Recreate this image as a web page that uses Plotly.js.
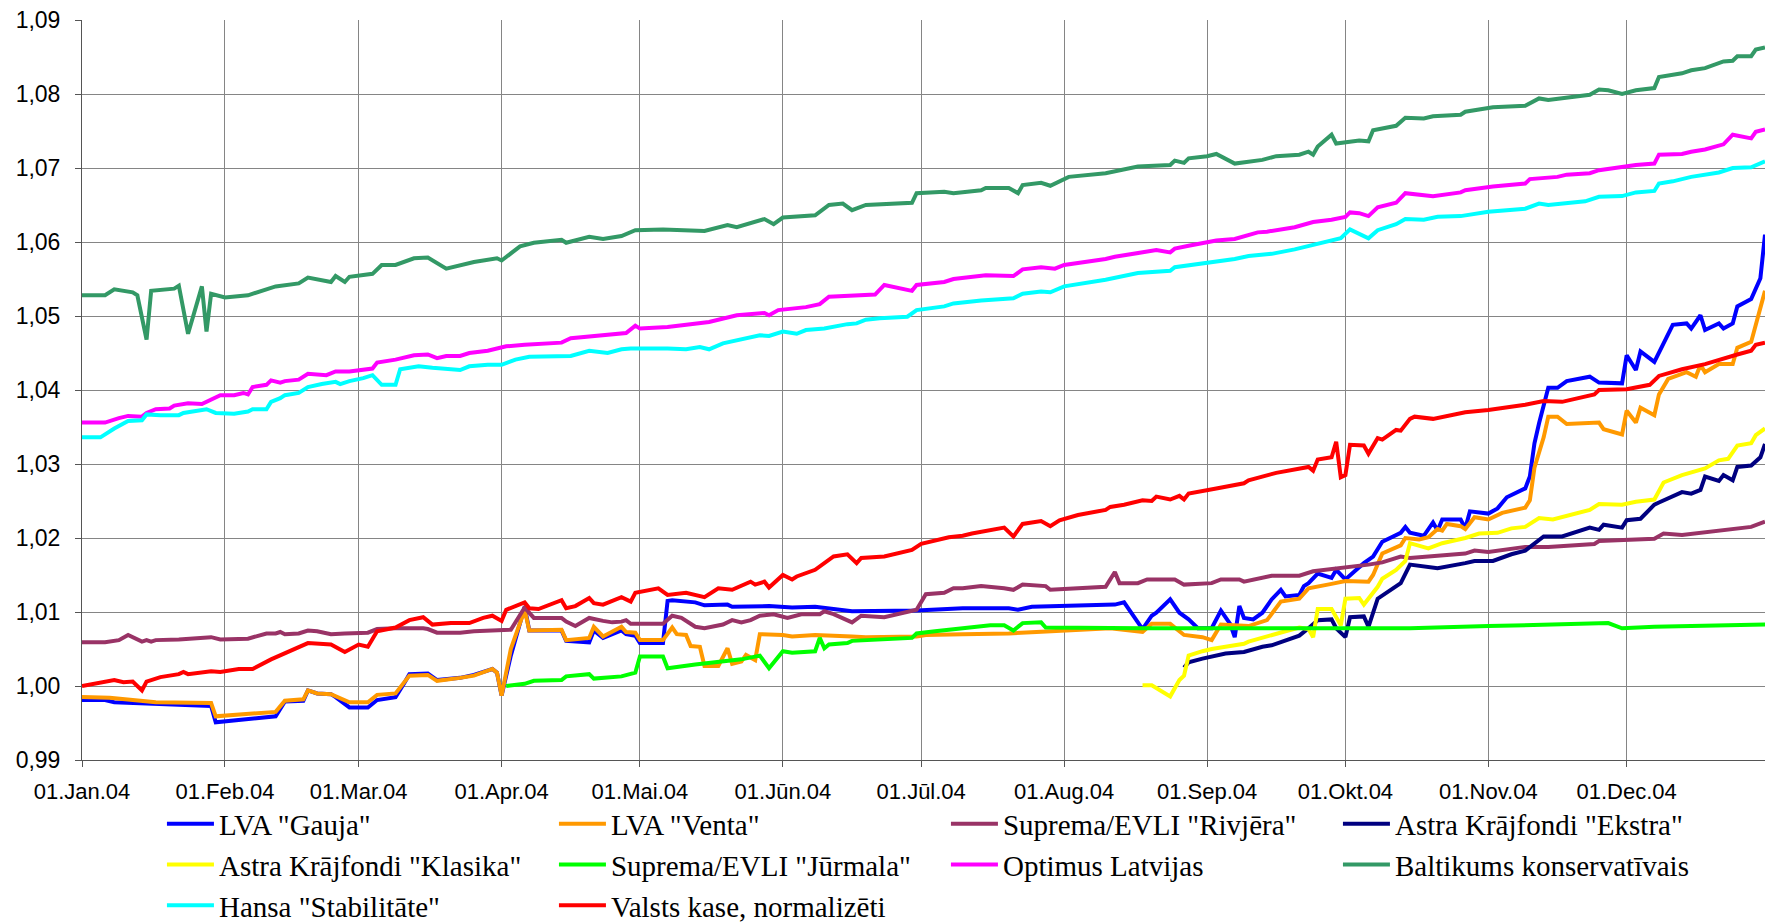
<!DOCTYPE html>
<html><head><meta charset="utf-8">
<script src="https://cdn.plot.ly/plotly-3.0.1.min.js"></script>
<style>html,body{margin:0;padding:0;background:#fff}#chart{width:1765px;height:924px}</style>
</head><body><div id="chart"></div>
<script>
// x tick positions / labels
const monthTicks = ['2004-01-01','2004-02-01','2004-03-01','2004-04-01','2004-05-01','2004-06-01','2004-07-01','2004-08-01','2004-09-01','2004-10-01','2004-11-01','2004-12-01'];
const monthLabels = ['01.Jan.04','01.Feb.04','01.Mar.04','01.Apr.04','01.Mai.04','01.Jūn.04','01.Jūl.04','01.Aug.04','01.Sep.04','01.Okt.04','01.Nov.04','01.Dec.04'];
const yTicks = [0.99,1.00,1.01,1.02,1.03,1.04,1.05,1.06,1.07,1.08,1.09];

// series: day of year 2004 (0 = 1 Jan) and value
const gaujaDay = [0,5,7,16,28,29,36,42,44,48,49,51,54,55,58,62,64,68,70,71,75,77,82,85,89,90,91,93,96,97,104,105,110,111,113,117,118,120,121,126,127,128,133,135,140,141,149,154,159,167,181,191,201,203,206,224,226,228,230,232,233,236,238,240,242,245,247,249,250,251,252,254,256,258,260,261,264,265,266,268,271,272,274,276,278,280,282,286,287,288,291,293,294,295,299,300,301,305,307,309,313,314,315,316,318,320,322,327,329,334,335,337,338,341,345,348,349,351,352,355,356,358,359,362,364,365];
const gaujaVal = [0.9981,0.9981,0.9978,0.9976,0.9973,0.9951,0.9955,0.9959,0.9979,0.9980,0.9994,0.9990,0.9989,0.9985,0.9971,0.9971,0.9981,0.9985,1.0005,1.0016,1.0017,1.0008,1.0011,1.0015,1.0023,1.0018,0.9987,1.0041,1.0107,1.0075,1.0075,1.0061,1.0059,1.0075,1.0065,1.0075,1.0070,1.0068,1.0058,1.0058,1.0115,1.0116,1.0113,1.0109,1.0110,1.0107,1.0108,1.0106,1.0107,1.0101,1.0102,1.0105,1.0105,1.0103,1.0107,1.0110,1.0113,1.0095,1.0077,1.0095,1.0099,1.0117,1.0099,1.0090,1.0078,1.0078,1.0102,1.0084,1.0066,1.0108,1.0092,1.0090,1.0099,1.0117,1.0130,1.0121,1.0123,1.0135,1.0139,1.0152,1.0146,1.0157,1.0144,1.0155,1.0166,1.0175,1.0195,1.0207,1.0215,1.0207,1.0203,1.0221,1.0210,1.0225,1.0225,1.0213,1.0236,1.0233,1.0240,1.0255,1.0267,1.0283,1.0328,1.0355,1.0403,1.0403,1.0412,1.0418,1.0410,1.0409,1.0447,1.0427,1.0452,1.0438,1.0488,1.0490,1.0483,1.0501,1.0481,1.0490,1.0483,1.0490,1.0513,1.0523,1.0551,1.0610];

const ventaDay = [0,6,16,28,29,36,42,44,48,49,51,54,55,58,62,64,68,70,71,75,77,82,85,89,90,91,93,96,97,104,105,110,111,113,117,118,120,121,126,128,129,131,132,134,135,138,140,141,143,144,146,147,152,154,159,167,170,181,183,191,201,207,223,230,232,236,239,243,245,247,250,253,257,260,264,266,271,274,279,280,282,286,287,290,292,294,295,296,299,300,302,305,308,313,314,315,317,318,320,322,329,330,334,335,337,338,341,342,344,348,350,351,352,355,358,359,362,363,365];
const ventaVal = [0.9985,0.9984,0.9978,0.9977,0.9959,0.9962,0.9965,0.9980,0.9982,0.9994,0.9990,0.9989,0.9986,0.9978,0.9978,0.9988,0.9990,1.0007,1.0014,1.0015,1.0007,1.0011,1.0014,1.0023,1.0018,0.9987,1.0050,1.0103,1.0075,1.0076,1.0062,1.0065,1.0080,1.0067,1.0080,1.0073,1.0072,1.0062,1.0062,1.0079,1.0070,1.0069,1.0054,1.0053,1.0027,1.0027,1.0051,1.0030,1.0033,1.0042,1.0035,1.0070,1.0069,1.0067,1.0069,1.0067,1.0066,1.0067,1.0069,1.0070,1.0071,1.0073,1.0078,1.0073,1.0084,1.0084,1.0069,1.0066,1.0062,1.0083,1.0082,1.0081,1.0089,1.0114,1.0118,1.0132,1.0138,1.0142,1.0141,1.0150,1.0179,1.0190,1.0200,1.0198,1.0201,1.0212,1.0210,1.0219,1.0216,1.0212,1.0228,1.0225,1.0234,1.0241,1.0251,1.0295,1.0336,1.0364,1.0364,1.0354,1.0356,1.0347,1.0340,1.0372,1.0356,1.0376,1.0366,1.0394,1.0415,1.0424,1.0418,1.0434,1.0424,1.0435,1.0435,1.0457,1.0465,1.0488,1.0534];

const rivjeraDay = [0,5,8,10,13,14,15,16,21,28,30,36,40,42,43,44,47,49,51,54,57,62,64,68,74,75,77,82,85,91,93,96,98,104,105,107,110,113,115,117,118,119,126,128,130,133,135,139,141,143,145,147,150,153,156,160,161,163,167,169,174,181,183,187,189,191,195,200,202,204,209,210,222,224,225,229,231,237,239,245,247,251,252,258,264,267,270,274,279,282,286,288,293,300,302,305,313,318,328,329,341,343,347,355,362,365];
const rivjeraVal = [1.0059,1.0059,1.0062,1.0069,1.0060,1.0062,1.0060,1.0062,1.0063,1.0066,1.0063,1.0064,1.0071,1.0071,1.0073,1.0070,1.0071,1.0075,1.0074,1.0070,1.0071,1.0072,1.0077,1.0078,1.0078,1.0077,1.0072,1.0072,1.0074,1.0075,1.0076,1.0106,1.0092,1.0092,1.0087,1.0081,1.0092,1.0088,1.0086,1.0087,1.0089,1.0084,1.0084,1.0095,1.0092,1.0080,1.0078,1.0083,1.0089,1.0086,1.0089,1.0095,1.0097,1.0092,1.0097,1.0097,1.0101,1.0097,1.0086,1.0095,1.0093,1.0103,1.0124,1.0126,1.0132,1.0132,1.0135,1.0132,1.0130,1.0137,1.0135,1.0130,1.0134,1.0154,1.0139,1.0139,1.0144,1.0144,1.0137,1.0139,1.0144,1.0144,1.0141,1.0149,1.0149,1.0155,1.0157,1.0160,1.0164,1.0167,1.0175,1.0173,1.0175,1.0179,1.0183,1.0181,1.0188,1.0188,1.0192,1.0196,1.0199,1.0206,1.0204,1.0210,1.0215,1.0222];

const ekstraDay = [239,240,243,245,248,252,256,258,261,264,266,268,271,272,274,275,278,279,281,285,286,288,292,294,300,302,306,310,313,316,317,321,323,327,329,330,334,335,338,341,342,347,349,351,352,355,356,358,359,362,364,365];
const ekstraVal = [1.0025,1.0032,1.0037,1.0040,1.0044,1.0046,1.0053,1.0055,1.0062,1.0068,1.0078,1.0089,1.0090,1.0078,1.0066,1.0093,1.0094,1.0080,1.0118,1.0136,1.0139,1.0164,1.0161,1.0159,1.0166,1.0169,1.0169,1.0178,1.0183,1.0197,1.0202,1.0202,1.0206,1.0214,1.0211,1.0218,1.0214,1.0224,1.0226,1.0245,1.0248,1.0262,1.0260,1.0265,1.0283,1.0277,1.0285,1.0278,1.0296,1.0298,1.0309,1.0327];

const klasikaDay = [230,232,236,238,239,240,243,245,248,252,253,258,261,264,266,267,268,271,272,273,274,277,278,281,282,285,287,288,292,295,300,303,307,310,313,316,319,327,329,334,337,341,343,347,352,355,357,359,362,363,365];
const klasikaVal = [1.0001,1.0001,0.9986,1.0008,1.0014,1.0041,1.0047,1.0050,1.0053,1.0057,1.0060,1.0068,1.0074,1.0079,1.0077,1.0066,1.0104,1.0104,1.0093,1.0082,1.0118,1.0119,1.0110,1.0134,1.0145,1.0157,1.0169,1.0193,1.0186,1.0193,1.0200,1.0206,1.0207,1.0213,1.0215,1.0227,1.0225,1.0238,1.0246,1.0245,1.0249,1.0252,1.0275,1.0285,1.0294,1.0305,1.0307,1.0325,1.0328,1.0339,1.0348];

const jurmalaDay = [92,96,98,104,105,110,111,117,120,121,126,127,133,138,143,147,149,152,154,159,160,161,162,166,167,180,181,185,191,194,197,200,202,204,208,209,230,260,288,305,327,331,334,341,365];
const jurmalaVal = [1.0000,1.0003,1.0007,1.0008,1.0013,1.0016,1.0010,1.0013,1.0018,1.0040,1.0040,1.0024,1.0029,1.0032,1.0036,1.0041,1.0024,1.0047,1.0045,1.0047,1.0065,1.0051,1.0056,1.0058,1.0061,1.0065,1.0071,1.0074,1.0078,1.0080,1.0082,1.0082,1.0075,1.0085,1.0086,1.0079,1.0078,1.0078,1.0078,1.0081,1.0084,1.0085,1.0078,1.0080,1.0083];

const optimusDay = [0,5,8,10,13,14,16,19,20,23,26,29,30,33,35,36,37,40,41,43,44,47,49,53,55,58,61,63,64,68,72,75,77,79,82,84,88,92,96,104,106,114,118,120,121,127,136,142,148,149,151,157,160,162,169,172,174,180,181,187,189,195,196,202,204,208,211,213,217,222,224,229,233,236,237,240,243,246,250,253,255,257,260,263,267,271,274,275,277,279,281,285,287,291,293,299,300,306,313,314,320,322,327,329,334,337,341,342,347,349,352,356,358,362,363,365];
const optimusVal = [1.0356,1.0356,1.0362,1.0365,1.0364,1.0369,1.0374,1.0375,1.0379,1.0382,1.0381,1.0391,1.0393,1.0393,1.0396,1.0394,1.0404,1.0407,1.0413,1.0410,1.0412,1.0414,1.0422,1.0420,1.0425,1.0425,1.0427,1.0429,1.0437,1.0441,1.0447,1.0448,1.0443,1.0446,1.0446,1.0450,1.0453,1.0459,1.0461,1.0464,1.0470,1.0474,1.0477,1.0487,1.0483,1.0485,1.0492,1.0501,1.0504,1.0501,1.0508,1.0512,1.0516,1.0526,1.0528,1.0529,1.0542,1.0534,1.0542,1.0546,1.0550,1.0554,1.0555,1.0554,1.0563,1.0566,1.0564,1.0569,1.0572,1.0577,1.0580,1.0585,1.0589,1.0586,1.0591,1.0595,1.0598,1.0602,1.0604,1.0609,1.0613,1.0614,1.0617,1.0620,1.0627,1.0630,1.0634,1.0640,1.0639,1.0635,1.0647,1.0653,1.0666,1.0663,1.0662,1.0667,1.0670,1.0675,1.0679,1.0685,1.0688,1.0691,1.0693,1.0697,1.0702,1.0704,1.0706,1.0718,1.0719,1.0722,1.0725,1.0732,1.0745,1.0740,1.0749,1.0752];

const baltikumsDay = [0,5,7,11,12,14,15,20,21,23,26,27,28,31,36,42,47,49,54,55,57,58,63,65,68,72,75,79,85,90,91,95,98,104,105,110,113,117,120,126,135,140,142,145,148,150,152,159,162,165,167,170,174,180,181,187,189,195,196,201,203,204,208,210,214,222,229,236,237,239,240,244,246,250,256,259,264,266,267,268,271,272,277,279,280,285,287,291,293,299,300,306,313,316,318,327,329,331,334,337,341,342,347,349,352,356,358,359,362,363,365];
const baltikumsVal = [1.0528,1.0528,1.0536,1.0532,1.0528,1.0468,1.0534,1.0537,1.0541,1.0476,1.0540,1.0479,1.0530,1.0525,1.0528,1.0540,1.0544,1.0552,1.0546,1.0554,1.0546,1.0553,1.0557,1.0569,1.0569,1.0578,1.0579,1.0564,1.0573,1.0578,1.0575,1.0594,1.0599,1.0603,1.0599,1.0607,1.0604,1.0608,1.0616,1.0617,1.0615,1.0623,1.0620,1.0626,1.0631,1.0624,1.0633,1.0636,1.0650,1.0652,1.0643,1.0650,1.0651,1.0653,1.0666,1.0668,1.0666,1.0670,1.0673,1.0673,1.0666,1.0677,1.0680,1.0676,1.0688,1.0693,1.0702,1.0704,1.0710,1.0707,1.0713,1.0716,1.0719,1.0706,1.0711,1.0716,1.0718,1.0722,1.0718,1.0729,1.0745,1.0733,1.0737,1.0736,1.0751,1.0757,1.0768,1.0767,1.0770,1.0772,1.0776,1.0782,1.0784,1.0794,1.0792,1.0799,1.0806,1.0805,1.0800,1.0805,1.0808,1.0823,1.0828,1.0832,1.0835,1.0844,1.0845,1.0851,1.0851,1.0860,1.0863];

const hansaDay = [0,4,7,10,13,14,17,21,22,26,27,29,33,36,37,40,41,43,44,47,49,52,55,56,58,61,63,65,68,69,73,76,82,84,88,91,94,97,106,110,114,117,119,127,131,134,136,139,142,147,149,152,155,157,161,166,168,170,173,179,181,187,189,195,202,204,208,210,213,222,229,236,237,243,250,253,258,263,267,273,275,279,281,285,287,291,294,299,305,313,316,318,326,329,334,337,341,342,345,349,355,358,362,365];
const hansaVal = [1.0336,1.0336,1.0348,1.0358,1.0359,1.0367,1.0366,1.0366,1.0369,1.0372,1.0374,1.0369,1.0368,1.0371,1.0374,1.0374,1.0384,1.0389,1.0393,1.0396,1.0404,1.0408,1.0411,1.0408,1.0412,1.0416,1.0420,1.0407,1.0407,1.0428,1.0432,1.0430,1.0427,1.0432,1.0434,1.0434,1.0441,1.0445,1.0446,1.0453,1.0450,1.0455,1.0456,1.0456,1.0455,1.0458,1.0455,1.0463,1.0467,1.0474,1.0473,1.0479,1.0476,1.0481,1.0483,1.0489,1.0490,1.0495,1.0497,1.0499,1.0508,1.0513,1.0517,1.0521,1.0524,1.0530,1.0533,1.0532,1.0540,1.0549,1.0558,1.0561,1.0566,1.0571,1.0577,1.0581,1.0584,1.0590,1.0596,1.0605,1.0617,1.0605,1.0616,1.0624,1.0631,1.0630,1.0634,1.0635,1.0641,1.0645,1.0652,1.0650,1.0655,1.0661,1.0662,1.0667,1.0669,1.0679,1.0682,1.0688,1.0694,1.0700,1.0701,1.0709];

const kaseDay = [0,7,9,11,13,14,17,21,22,23,28,30,34,37,41,45,49,54,57,60,62,64,68,71,74,76,80,84,87,89,91,92,96,97,99,104,105,107,110,111,113,117,119,120,125,127,131,135,138,141,145,146,148,149,152,154,155,159,163,166,168,169,174,180,182,188,191,193,200,202,204,208,210,212,216,222,223,226,230,232,233,236,238,239,240,246,252,253,259,266,267,268,271,272,273,274,275,278,279,281,282,285,286,288,289,293,300,305,313,317,321,328,329,335,340,342,347,352,355,359,362,363,365];
const kaseVal = [1.0000,1.0008,1.0005,1.0006,0.9994,1.0006,1.0012,1.0016,1.0019,1.0016,1.0020,1.0019,1.0023,1.0023,1.0036,1.0047,1.0058,1.0056,1.0046,1.0056,1.0053,1.0074,1.0079,1.0089,1.0093,1.0083,1.0085,1.0085,1.0092,1.0095,1.0088,1.0103,1.0113,1.0105,1.0104,1.0116,1.0105,1.0108,1.0119,1.0112,1.0110,1.0120,1.0114,1.0126,1.0132,1.0123,1.0126,1.0120,1.0132,1.0130,1.0141,1.0137,1.0141,1.0133,1.0150,1.0144,1.0148,1.0157,1.0175,1.0178,1.0166,1.0173,1.0175,1.0184,1.0192,1.0201,1.0203,1.0206,1.0214,1.0202,1.0219,1.0223,1.0216,1.0224,1.0231,1.0238,1.0242,1.0245,1.0251,1.0250,1.0256,1.0252,1.0257,1.0252,1.0260,1.0267,1.0274,1.0278,1.0288,1.0296,1.0291,1.0306,1.0309,1.0330,1.0282,1.0285,1.0326,1.0325,1.0314,1.0335,1.0333,1.0346,1.0345,1.0361,1.0364,1.0361,1.0370,1.0373,1.0380,1.0385,1.0384,1.0394,1.0400,1.0401,1.0407,1.0419,1.0428,1.0435,1.0441,1.0448,1.0453,1.0461,1.0464];

const seriesNames = ['LVA "Gauja"','LVA "Venta"','Suprema/EVLI "Rivjēra"','Astra Krājfondi "Ekstra"','Astra Krājfondi "Klasika"','Suprema/EVLI "Jūrmala"','Optimus Latvijas','Baltikums konservatīvais','Hansa "Stabilitāte"','Valsts kase, normalizēti'];
const seriesColors = ['#0000FF','#FF9900','#993366','#000080','#FFFF00','#00FF00','#FF00FF','#339966','#00FFFF','#FF0000'];
const seriesDays = [gaujaDay,ventaDay,rivjeraDay,ekstraDay,klasikaDay,jurmalaDay,optimusDay,baltikumsDay,hansaDay,kaseDay];
const seriesVals = [gaujaVal,ventaVal,rivjeraVal,ekstraVal,klasikaVal,jurmalaVal,optimusVal,baltikumsVal,hansaVal,kaseVal];

function dayToDate(d){ return new Date(Date.UTC(2004,0,1+d)).toISOString().slice(0,10); }

const traces = seriesNames.map((name,i)=>({
  type:'scatter', mode:'lines', name:name,
  x: seriesDays[i].map(dayToDate), y: seriesVals[i],
  line:{color:seriesColors[i], width:4},
  hoverinfo:'skip'
}));

const layout = {
  width:1765, height:924,
  margin:{l:82, r:0, t:20, b:164, autoexpand:false},
  paper_bgcolor:'#ffffff', plot_bgcolor:'#ffffff',
  separators:', ',
  showlegend:true,
  xaxis:{
    type:'date', range:['2004-01-01','2004-12-31'],
    tickmode:'array', tickvals:monthTicks, ticktext:monthLabels,
    showgrid:true, gridcolor:'#858585', gridwidth:1,
    showline:true, linecolor:'#555555', linewidth:1,
    ticks:'outside', ticklen:6, tickcolor:'#555555',
    ticklabelstandoff:6,
    tickfont:{family:'Liberation Sans, Arial, sans-serif', size:22, color:'#000'},
    zeroline:false, fixedrange:true
  },
  yaxis:{
    range:[0.99,1.09], tickmode:'array', tickvals:yTicks, tickformat:'.2f',
    showgrid:true, gridcolor:'#858585', gridwidth:1,
    showline:true, linecolor:'#555555', linewidth:1,
    ticks:'outside', ticklen:6, tickcolor:'#555555',
    ticklabelstandoff:10,
    tickfont:{family:'Liberation Sans, Arial, sans-serif', size:23, color:'#000'},
    zeroline:false, fixedrange:true
  },
  legend:{
    orientation:'h', x:0.0475, xanchor:'left', y:-0.052, yanchor:'top',
    entrywidth:330, entrywidthmode:'pixels', itemwidth:47,
    font:{family:'Liberation Serif, Times New Roman, serif', size:29, color:'#000'},
    bgcolor:'rgba(0,0,0,0)', borderwidth:0, traceorder:'normal'
  }
};

Plotly.newPlot('chart', traces, layout, {staticPlot:true, displayModeBar:false});
</script>
</body></html>
